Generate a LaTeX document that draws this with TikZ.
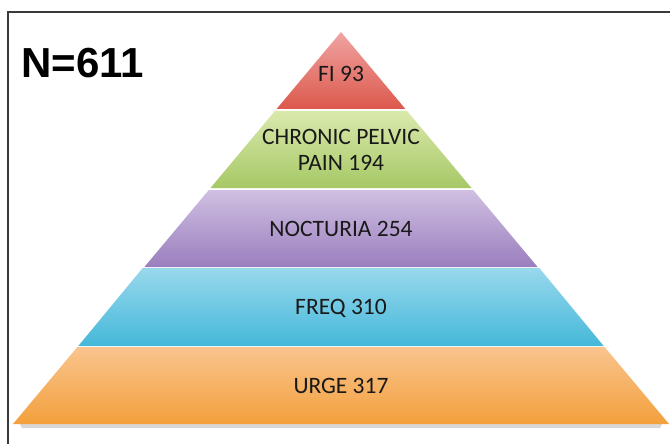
\documentclass[tikz,border=0pt]{standalone}
\usepackage{fontspec}
\setmainfont{Carlito}
\newfontfamily\headfont{Liberation Sans}
\definecolor{redT}{HTML}{F0A4A2}
\definecolor{redB}{HTML}{DC584C}
\definecolor{grnT}{HTML}{DAE9AC}
\definecolor{grnB}{HTML}{A6C866}
\definecolor{purT}{HTML}{D0C0E2}
\definecolor{purB}{HTML}{9A7EBE}
\definecolor{bluT}{HTML}{98D8EC}
\definecolor{bluB}{HTML}{45B8DA}
\definecolor{orgT}{HTML}{F9C48E}
\definecolor{orgB}{HTML}{F3A03C}
\definecolor{frameC}{HTML}{3A3A3A}
\tikzset{
  layerlabel/.style={font=\fontsize{23.5}{26}\selectfont, text=black!90, align=center, inner sep=0pt},
  framepen/.style={draw=frameC, line width=1.3pt},
}
\begin{document}
\begin{tikzpicture}[x=1pt,y=-1pt]
\useasboundingbox (0,0) rectangle (670,444);
\fill[white] (0,0) rectangle (670,444);
% frame
\draw[framepen] (670,12) -- (8,12) -- (8,444);
% shadow
\fill[black!25, opacity=0.6] (20,424) -- (662,424) -- (660,428) -- (22,428) -- cycle;
% layers
\shade[top color=redT, bottom color=redB] (341,32) -- (405.4,109) -- (276.6,109) -- cycle;
\shade[top color=grnT, bottom color=grnB] (274.9,111) -- (407.1,111) -- (471.5,188) -- (210.5,188) -- cycle;
\shade[top color=purT, bottom color=purB] (208.8,190) -- (473.2,190) -- (537.6,267) -- (144.4,267) -- cycle;
\shade[top color=bluT, bottom color=bluB] (142.7,268) -- (539.3,268) -- (603.7,346) -- (78.3,346) -- cycle;
\shade[top color=orgT, bottom color=orgB] (77.4,347) -- (604.6,347) -- (669,424) -- (13,424) -- cycle;
% labels
\node[anchor=west, inner sep=0pt, font=\headfont\bfseries\fontsize{42}{46}\selectfont] (n) at (21,63) {N=611};
\node[layerlabel] (fi) at (341,74) {FI 93};
\node[layerlabel] (cpp) at (341,150) {CHRONIC PELVIC\\PAIN 194};
\node[layerlabel] (noc) at (341,229) {NOCTURIA 254};
\node[layerlabel] (frq) at (341,308) {FREQ 310};
\node[layerlabel] (urg) at (341,386) {URGE 317};
\end{tikzpicture}
\end{document}
